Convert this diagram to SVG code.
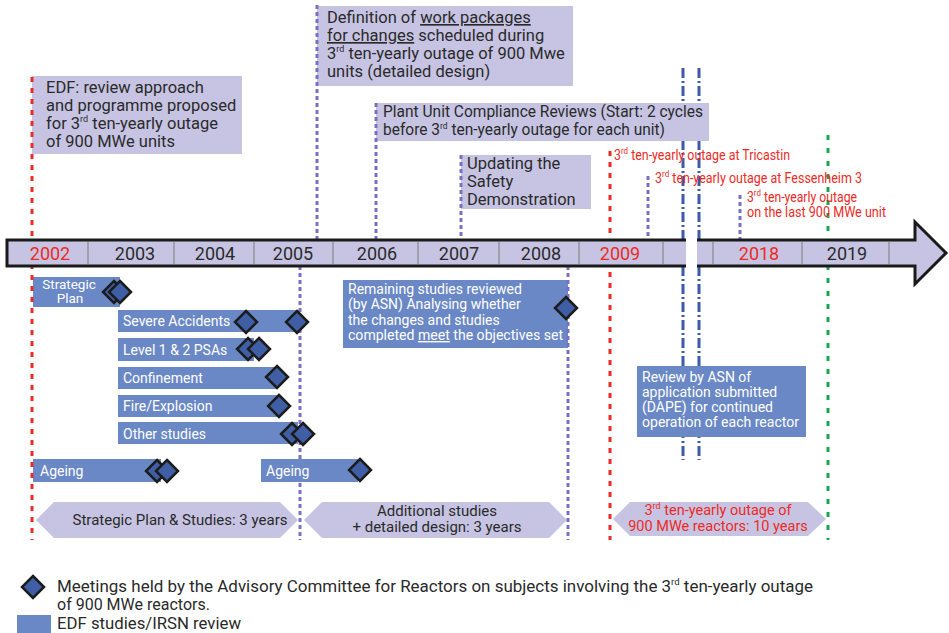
<svg xmlns="http://www.w3.org/2000/svg" width="949" height="633" viewBox="0 0 949 633">
<defs>
<style>
text{font-family:Roboto,"Liberation Sans",sans-serif;}
.lav{fill:#c6c4e2;}
.blue{fill:#6a88c6;}
.t17{font-size:16.5px;fill:#2a2a2a;}
.w15{font-size:14px;fill:#ffffff;}
.w14{font-size:13.5px;fill:#ffffff;}
.d15{font-size:15px;fill:#2a2a2a;}
.r14{font-size:14px;fill:#ee2a24;}
.r15{font-size:14.5px;fill:#ee2a24;}
.yr{font-size:18px;fill:#2a2a2a;text-anchor:middle;}
.yrr{font-size:18px;fill:#ee2a24;text-anchor:middle;}
.leg{font-size:16px;fill:#2a2a2a;}
.red{stroke:#ee2a24;stroke-width:3;stroke-dasharray:5 6;fill:none;}
.pur{stroke:#7a70c2;stroke-width:3;stroke-dasharray:4 3;fill:none;}
.dd{stroke:#3d5aa8;stroke-width:3;stroke-dasharray:10 3 2 3;fill:none;}
.grn{stroke:#1aa64e;stroke-width:3;stroke-dasharray:5 8;fill:none;}
.div{stroke:#7a7a7a;stroke-width:1;}
.dia{fill:#3f5ea6;stroke:#1c1c1c;stroke-width:2.5;stroke-linejoin:miter;}
.sup{font-size:9px;}
</style>
<path id="dm" class="dia" d="M0,-11 L11,0 L0,11 L-11,0 Z"/>
</defs>
<rect width="949" height="633" fill="#ffffff"/>

<g id="connectors-under">
<line class="dd" x1="683" y1="68" x2="683" y2="460"/>
<line class="dd" x1="699" y1="68" x2="699" y2="460"/>
<line class="pur" x1="300" y1="266" x2="300" y2="540"/>
</g>

<g id="box-edf">
<rect class="lav" x="32" y="76" width="210" height="78"/>
<text class="t17" x="46" y="93">EDF: review approach</text>
<text class="t17" x="46" y="111">and programme proposed</text>
<text class="t17" x="46" y="129">for 3<tspan class="sup" dy="-7">rd</tspan><tspan dy="7"> ten-yearly outage</tspan></text>
<text class="t17" x="46" y="147">of 900 MWe units</text>
</g>

<g id="box-definition">
<rect class="lav" x="317" y="6" width="256" height="80"/>
<text class="t17" x="327" y="23">Definition of <tspan text-decoration="underline">work packages</tspan></text>
<text class="t17" x="327" y="41"><tspan text-decoration="underline">for changes</tspan> scheduled during</text>
<text class="t17" x="327" y="59">3<tspan class="sup" dy="-7">rd</tspan><tspan dy="7"> ten-yearly outage of 900 Mwe</tspan></text>
<text class="t17" x="327" y="77">units (detailed design)</text>
</g>

<g id="box-compliance">
<rect class="lav" x="376" y="103" width="333" height="38"/>
<text class="t17" x="383" y="117" textLength="320" lengthAdjust="spacingAndGlyphs">Plant Unit Compliance Reviews (Start: 2 cycles</text>
<text class="t17" x="383" y="135" textLength="282" lengthAdjust="spacingAndGlyphs">before 3<tspan class="sup" dy="-6">rd</tspan><tspan dy="6"> ten-yearly outage for each unit)</tspan></text>
</g>

<g id="box-updating">
<rect class="lav" x="461" y="155" width="130" height="54"/>
<text class="t17" x="467" y="169">Updating the</text>
<text class="t17" x="467" y="187">Safety</text>
<text class="t17" x="467" y="205">Demonstration</text>
</g>

<g id="bar-strategic-plan">
<rect class="blue" x="33" y="277" width="87" height="30"/>
<text class="w14" x="69" y="289" text-anchor="middle">Strategic</text>
<text class="w14" x="70" y="303" text-anchor="middle">Plan</text>
</g>
<g id="bar-severe">
<rect class="blue" x="118" y="310" width="182" height="22"/>
<text class="w15" x="123" y="326">Severe Accidents</text>
</g>
<g id="bar-psa">
<rect class="blue" x="118" y="338" width="136" height="23"/>
<text class="w15" x="123" y="355">Level 1 &amp; 2 PSAs</text>
</g>
<g id="bar-confinement">
<rect class="blue" x="118" y="367" width="159" height="22"/>
<text class="w15" x="123" y="383">Confinement</text>
</g>
<g id="bar-fire">
<rect class="blue" x="118" y="395" width="162" height="22"/>
<text class="w15" x="123" y="411">Fire/Explosion</text>
</g>
<g id="bar-other">
<rect class="blue" x="118" y="422" width="180" height="22"/>
<text class="w15" x="123" y="439">Other studies</text>
</g>
<g id="bar-ageing-1">
<rect class="blue" x="33" y="459" width="128" height="23"/>
<text class="w15" x="40" y="476">Ageing</text>
</g>
<g id="bar-ageing-2">
<rect class="blue" x="261" y="459" width="97" height="23"/>
<text class="w15" x="266" y="476">Ageing</text>
</g>
<g id="box-remaining">
<rect class="blue" x="343" y="280" width="225" height="68"/>
<text class="w15" x="348" y="294">Remaining studies reviewed</text>
<text class="w15" x="348" y="309">(by ASN) Analysing whether</text>
<text class="w15" x="348" y="325">the changes and studies</text>
<text class="w15" x="348" y="340" textLength="215" lengthAdjust="spacingAndGlyphs">completed <tspan text-decoration="underline">meet</tspan> the objectives set</text>
</g>
<g id="box-review">
<rect class="blue" x="637" y="366" width="169" height="71"/>
<text class="w15" x="642" y="382">Review by ASN of</text>
<text class="w15" x="642" y="397">application submitted</text>
<text class="w15" x="642" y="412">(DAPE) for continued</text>
<text class="w15" x="642" y="427" textLength="157" lengthAdjust="spacingAndGlyphs">operation of each reactor</text>
</g>

<g id="phase-1">
<polygon class="lav" points="36,520 54,502 280,502 298,520 280,538 54,538"/>
<text class="d15" x="180" y="525" text-anchor="middle">Strategic Plan &amp; Studies: 3 years</text>
</g>
<g id="phase-2">
<polygon class="lav" points="304,520 322,502 549,502 567,520 549,538 322,538"/>
<text class="d15" x="437" y="516" text-anchor="middle">Additional studies</text>
<text class="d15" x="437" y="532" text-anchor="middle">+ detailed design: 3 years</text>
</g>
<g id="phase-3">
<polygon class="lav" points="613,519 630,502 808,502 826,519 808,536 630,536"/>
<text class="r15" x="718" y="515" text-anchor="middle">3<tspan class="sup" dy="-6">rd</tspan><tspan dy="6"> ten-yearly outage of</tspan></text>
<text class="r15" x="718" y="531" text-anchor="middle">900 MWe reactors: 10 years</text>
</g>

<g id="connectors">
<line class="red" x1="32" y1="77" x2="32" y2="540"/>
<line class="pur" x1="317" y1="5" x2="317" y2="240"/>
<line class="pur" x1="376" y1="103" x2="376" y2="240"/>
<line class="pur" x1="461" y1="155" x2="461" y2="240"/>
<line class="pur" x1="568" y1="266" x2="568" y2="540"/>
<line class="red" x1="610" y1="151" x2="610" y2="540"/>
<line class="pur" x1="648" y1="176" x2="648" y2="240"/>
<line class="pur" x1="740" y1="195" x2="740" y2="240"/>
<line class="grn" x1="828" y1="135" x2="828" y2="540"/>
</g>

<g id="timeline">
<path d="M7,240 L915,240 L915,222 L946,253 L915,284 L915,266 L7,266 Z" fill="#c6c4e2" stroke="#1a1a1a" stroke-width="3" stroke-linejoin="miter"/>
<g class="div">
<line x1="88" y1="241" x2="88" y2="265"/>
<line x1="174" y1="241" x2="174" y2="265"/>
<line x1="254" y1="241" x2="254" y2="265"/>
<line x1="333" y1="241" x2="333" y2="265"/>
<line x1="418" y1="241" x2="418" y2="265"/>
<line x1="499" y1="241" x2="499" y2="265"/>
<line x1="579" y1="241" x2="579" y2="265"/>
<line x1="663" y1="241" x2="663" y2="265"/>
<line x1="713" y1="241" x2="713" y2="265"/>
<line x1="802" y1="241" x2="802" y2="265"/>
<line x1="889" y1="241" x2="889" y2="265"/>
</g>
<rect x="686" y="236" width="11" height="34" fill="#ffffff"/>
<text class="yrr" x="50" y="260">2002</text>
<text class="yr" x="135" y="260">2003</text>
<text class="yr" x="215" y="260">2004</text>
<text class="yr" x="293" y="260">2005</text>
<text class="yr" x="377" y="260">2006</text>
<text class="yr" x="459" y="260">2007</text>
<text class="yr" x="541" y="260">2008</text>
<text class="yrr" x="620" y="260">2009</text>
<text class="yrr" x="759" y="260">2018</text>
<text class="yr" x="847" y="260">2019</text>
</g>

<g id="milestone-labels">
<text class="r14" x="614" y="160" textLength="176" lengthAdjust="spacingAndGlyphs">3<tspan class="sup" dy="-6">rd</tspan><tspan dy="6"> ten-yearly outage at Tricastin</tspan></text>
<text class="r14" x="655" y="183" textLength="207" lengthAdjust="spacingAndGlyphs">3<tspan class="sup" dy="-6">rd</tspan><tspan dy="6"> ten-yearly outage at Fessenheim 3</tspan></text>
<text class="r14" x="747" y="202" textLength="110" lengthAdjust="spacingAndGlyphs">3<tspan class="sup" dy="-6">rd</tspan><tspan dy="6"> ten-yearly outage</tspan></text>
<text class="r14" x="747" y="217" textLength="139" lengthAdjust="spacingAndGlyphs">on the last 900 MWe unit</text>
</g>

<g id="meetings">
<use href="#dm" x="114" y="292"/>
<use href="#dm" x="120" y="292"/>
<use href="#dm" x="246" y="322"/>
<use href="#dm" x="297" y="322"/>
<use href="#dm" x="248" y="349"/>
<use href="#dm" x="259" y="349"/>
<use href="#dm" x="277" y="377"/>
<use href="#dm" x="279" y="406"/>
<use href="#dm" x="292" y="434"/>
<use href="#dm" x="303" y="434"/>
<use href="#dm" x="157" y="471"/>
<use href="#dm" x="167" y="471"/>
<use href="#dm" x="360" y="470"/>
<use href="#dm" x="566" y="308"/>
</g>

<g id="legend">
<use href="#dm" x="33" y="587"/>
<text class="leg" x="57" y="592" textLength="756" lengthAdjust="spacingAndGlyphs">Meetings held by the Advisory Committee for Reactors on subjects involving the 3<tspan class="sup" dy="-7">rd</tspan><tspan dy="7"> ten-yearly outage</tspan></text>
<text class="leg" x="57" y="610">of 900 MWe reactors.</text>
<rect class="blue" x="17" y="615" width="34" height="18"/>
<text class="leg" x="57" y="629" textLength="184" lengthAdjust="spacingAndGlyphs">EDF studies/IRSN review</text>
</g>
</svg>
